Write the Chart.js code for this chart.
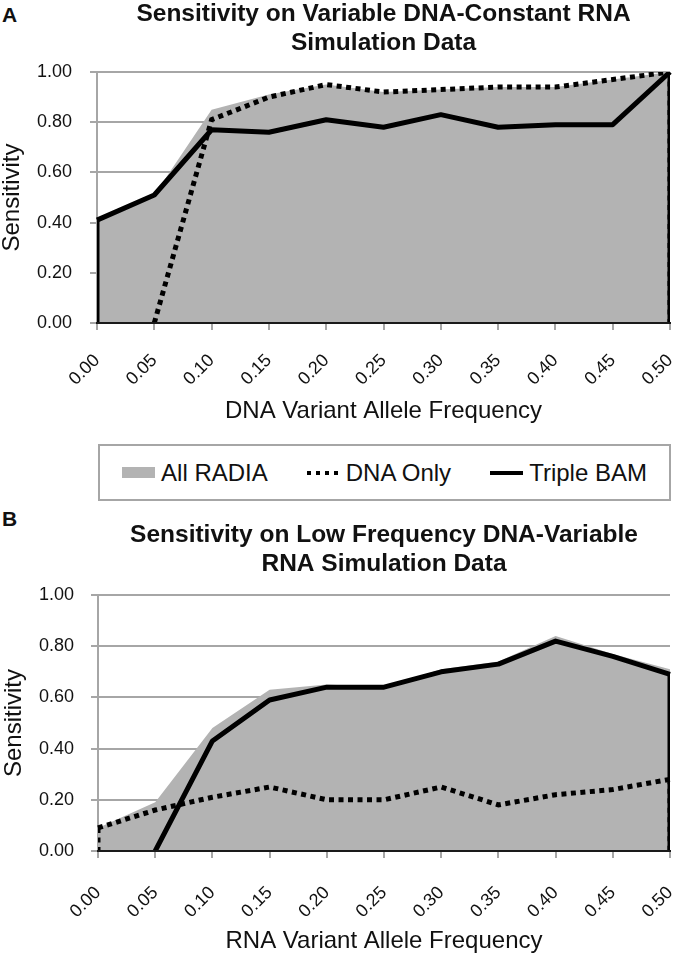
<!DOCTYPE html>
<html>
<head>
<meta charset="utf-8">
<script src="https://cdn.jsdelivr.net/npm/chart.js@4.4.1/dist/chart.umd.min.js"></script>
<style>
html,body{margin:0;padding:0;background:#fff;}
body{width:678px;height:957px;position:relative;overflow:hidden;font-family:"Liberation Sans",Arial,sans-serif;}
canvas{position:absolute;left:0;}
#cA{top:0;}
#cB{top:505px;}
.panel{position:absolute;left:2px;font-weight:bold;font-size:21px;line-height:21px;color:#111;}
#legend{position:absolute;left:98px;top:444px;width:573px;height:57px;box-sizing:border-box;border:2px solid #a6a6a6;display:flex;align-items:center;justify-content:center;gap:39px;font-size:24px;color:#111;}
.item{display:flex;align-items:center;gap:6px;white-space:nowrap;}
.sw{width:33px;display:inline-block;}
</style>
</head>
<body>
<div class="panel" style="top:4px">A</div>
<div class="panel" style="top:508px">B</div>
<canvas id="cA" width="678" height="440"></canvas>
<div id="legend"></div>
<canvas id="cB" width="678" height="452"></canvas>
<script>
// ---- data ----
const categories = ['0.00','0.05','0.10','0.15','0.20','0.25','0.30','0.35','0.40','0.45','0.50'];
const yTickValues = [0, 0.2, 0.4, 0.6, 0.8, 1.0];
const seriesNames = ['All RADIA', 'DNA Only', 'Triple BAM'];

const allRadiaA  = [0.41, 0.51, 0.85, 0.91, 0.95, 0.92, 0.93, 0.94, 0.94, 0.97, 1.00];
const dnaOnlyA   = [null, 0.00, 0.81, 0.90, 0.95, 0.92, 0.93, 0.94, 0.94, 0.97, 1.00];
const tripleBamA = [0.41, 0.51, 0.77, 0.76, 0.81, 0.78, 0.83, 0.78, 0.79, 0.79, 1.00];

const allRadiaB  = [0.09, 0.19, 0.48, 0.63, 0.65, 0.64, 0.71, 0.74, 0.84, 0.77, 0.71];
const dnaOnlyB   = [0.09, 0.16, 0.21, 0.25, 0.20, 0.20, 0.25, 0.18, 0.22, 0.24, 0.28];
const tripleBamB = [null, 0.00, 0.43, 0.59, 0.64, 0.64, 0.70, 0.73, 0.82, 0.76, 0.69];

const titleA = ['Sensitivity on Variable DNA-Constant RNA', 'Simulation Data'];
const titleB = ['Sensitivity on Low Frequency DNA-Variable', 'RNA Simulation Data'];
const xTitleA = 'DNA Variant Allele Frequency';
const xTitleB = 'RNA Variant Allele Frequency';
const yTitle = 'Sensitivity';

// ---- style ----
const FONT = "'Liberation Sans', Arial, sans-serif";
const GRID = '#a6a6a6';
const FILL = '#b3b3b3';
const INK = '#111111';

const edgePlugin = {
  id: 'edges',
  afterDatasetsDraw(chart) {
    const ctx = chart.ctx, a = chart.chartArea;
    const y0 = chart.scales.y.getPixelForValue(0);
    ctx.save();
    ctx.beginPath();
    ctx.rect(a.left, a.top - 10, a.right - a.left, a.bottom - a.top + 10);
    ctx.clip();
    chart.data.datasets.forEach((ds, i) => {
      if (!ds.edgeLines) return;
      const meta = chart.getDatasetMeta(i);
      const idx = ds.data.map((v, k) => (v == null ? -1 : k)).filter(k => k >= 0);
      [idx[0], idx[idx.length - 1]].forEach(k => {
        const p = meta.data[k];
        if (!p || Math.abs(p.y - y0) < 0.5) return;
        ctx.beginPath();
        ctx.strokeStyle = ds.borderColor;
        ctx.lineWidth = ds.borderWidth;
        ctx.setLineDash(ds.borderDash || []);
        ctx.lineCap = 'butt';
        ctx.moveTo(p.x, p.y);
        ctx.lineTo(p.x, y0);
        ctx.stroke();
      });
    });
    ctx.restore();
  }
};

function makeChart(id, cfg) {
  return new Chart(document.getElementById(id), {
    type: 'line',
    data: {
      labels: categories,
      datasets: [
        { label: seriesNames[0], data: cfg.all, fill: 'origin', backgroundColor: FILL, borderColor: FILL,
          borderWidth: 0, pointRadius: 0, tension: 0, order: 3 },
        { label: seriesNames[1], data: cfg.dna, fill: false, borderColor: '#000', borderWidth: 5,
          borderDash: [5, 4.5], borderCapStyle: 'butt', borderJoinStyle: 'miter', pointRadius: 0, tension: 0,
          order: 2, edgeLines: true },
        { label: seriesNames[2], data: cfg.triple, fill: false, borderColor: '#000', borderWidth: 5,
          borderJoinStyle: 'round', borderCapStyle: 'butt', pointRadius: 0, tension: 0, order: 1, edgeLines: true }
      ]
    },
    options: {
      responsive: false,
      animation: false,
      devicePixelRatio: 1,
      layout: { padding: { left: 0, right: 8, top: 0, bottom: 0 } },
      plugins: {
        legend: { display: false },
        tooltip: { enabled: false },
        title: {
          display: true, text: cfg.title, fullSize: false, color: INK,
          font: { family: FONT, size: 24.5, weight: 'bold', lineHeight: cfg.titleLH },
          padding: cfg.titlePad
        }
      },
      scales: {
        x: {
          type: 'category', offset: false,
          grid: { drawOnChartArea: false, drawTicks: true, tickLength: 7, tickColor: GRID, lineWidth: 2, tickWidth: 2 },
          border: { display: true, color: '#1a1a1a', width: 2, z: 1 },
          ticks: { autoSkip: false, minRotation: 45, maxRotation: 45, padding: cfg.xPad, color: INK,
                   font: { family: FONT, size: 18, lineHeight: 0.2 } },
          title: { display: true, text: cfg.xTitle, color: INK, font: { family: FONT, size: 24, lineHeight: 1.2 },
                   padding: { top: 0, bottom: cfg.xTitlePadB } },
          afterFit: s => { s.height = cfg.xAxisH; s.paddingLeft = 0; s.paddingRight = 0; }
        },
        y: {
          min: 0, max: 1,
          afterBuildTicks: s => { s.ticks = yTickValues.map(v => ({ value: v })); },
          grid: { color: c => (c.tick && c.tick.value === 0) ? 'rgba(0,0,0,0)' : GRID,
                  lineWidth: 2, tickLength: 7, tickColor: GRID, tickWidth: 2, drawTicks: true },
          border: { display: true, color: GRID, width: 2 },
          ticks: { padding: cfg.yPad, color: INK, font: { family: FONT, size: 18 },
                   callback: v => Number(v).toFixed(2) },
          title: { display: true, text: yTitle, color: INK, font: { family: FONT, size: 24, lineHeight: 1 },
                   padding: { top: cfg.yTitlePad, bottom: 0 } },
          afterFit: s => { s.width = cfg.yAxisW; }
        }
      }
    },
    plugins: [edgePlugin]
  });
}

const chartA = makeChart('cA', {
  all: allRadiaA, dna: dnaOnlyA, triple: tripleBamA, title: titleA, xTitle: xTitleA,
  titleLH: '29px', titlePad: { top: 0, bottom: 14 },
  xPad: 26.3, xAxisH: 117, xTitlePadB: 14.6, yAxisW: 97, yPad: 18, yTitlePad: 0.8
});
const chartB = makeChart('cB', {
  all: allRadiaB, dna: dnaOnlyB, triple: tripleBamB, title: titleB, xTitle: xTitleB,
  titleLH: '29.5px', titlePad: { top: 15.25, bottom: 15.75 },
  xPad: 30.6, xAxisH: 106, xTitlePadB: 1.1, yAxisW: 98, yPad: 17, yTitlePad: 2
});

// ---- shared legend built from the chart's datasets ----
(function buildLegend() {
  const box = document.getElementById('legend');
  chartA.data.datasets.forEach(ds => {
    const item = document.createElement('div');
    item.className = 'item';
    const sw = document.createElement('span');
    sw.className = 'sw';
    if (ds.fill) {
      sw.style.height = '11px';
      sw.style.background = ds.backgroundColor;
    } else if (ds.borderDash) {
      sw.style.height = '4px';
      sw.style.background = 'repeating-linear-gradient(90deg,#000 0 4.5px,transparent 4.5px 9px)';
    } else {
      sw.style.height = '4px';
      sw.style.background = ds.borderColor;
    }
    const tx = document.createElement('span');
    tx.textContent = ds.label;
    item.appendChild(sw);
    item.appendChild(tx);
    box.appendChild(item);
  });
})();
</script>
</body>
</html>
